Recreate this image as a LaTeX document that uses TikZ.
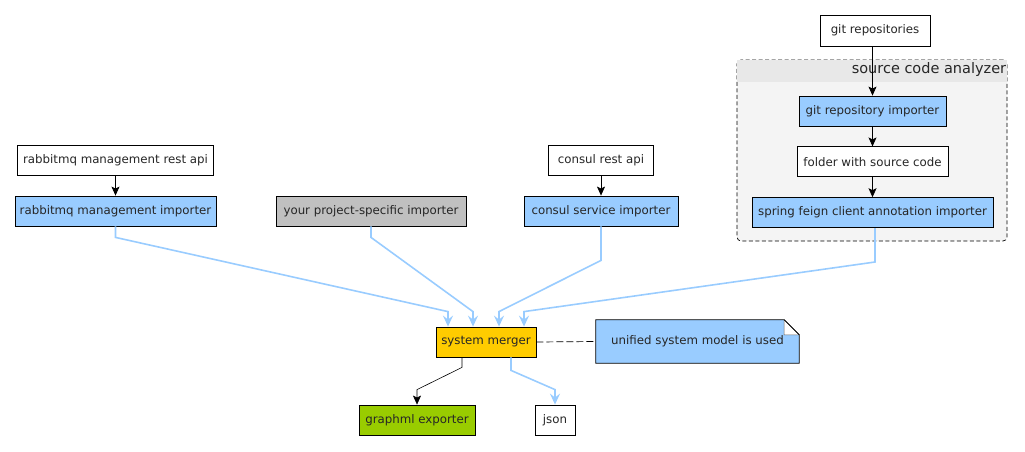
\documentclass[tikz,border=0pt]{standalone}
\usepackage{fontspec}
\setmainfont{DejaVu Sans}
\usepackage{xcolor}
\usepackage{tikz}
\usetikzlibrary{arrows.meta,positioning,calc}

\definecolor{impblue}{HTML}{99CCFF}
\definecolor{custgray}{HTML}{C0C0C0}
\definecolor{mergeorange}{HTML}{FFCC00}
\definecolor{exportgreen}{HTML}{99CC00}
\definecolor{groupfill}{HTML}{F4F4F4}
\definecolor{grouphead}{HTML}{E8E8E8}

\begin{document}
\begin{tikzpicture}[
    x=1pt, y=-1pt,
    font=\fontsize{11.8}{13}\selectfont,
    box/.style={rectangle, draw, line width=0.8pt, fill=white, minimum height=30pt, inner sep=0pt, align=center, text=black!85},
    importer/.style={box, fill=impblue},
    group/.style={rectangle, draw, dash pattern=on 4pt off 2.5pt, rounded corners=4pt, line width=0.7pt, fill=groupfill, inner sep=0pt},
    arrow/.style={-{Stealth[length=9pt,width=8pt,inset=2pt]}, line width=0.7pt},
    feed/.style={-{Stealth[length=11pt,width=10pt,inset=4pt]}, impblue, line width=1.6pt}
]
\useasboundingbox (0,0) rectangle (1025,451);

% source code analyzer group
\node[group, minimum width=270pt, minimum height=181pt] (analyzer) at (872,150.5) {};
\fill[grouphead] ([xshift=0.6pt,yshift=-0.6pt]analyzer.north west) rectangle ([xshift=-0.6pt,yshift=-22pt]analyzer.north east);
\node[anchor=north east, inner sep=1pt, font=\fontsize{14.5}{16}\selectfont, text=black!85] (grouptitle) at ([yshift=-2pt]analyzer.north east) {source code analyzer};

\node[box, minimum width=110pt, minimum height=31pt] (gitrepos) at (875,30.5) {git repositories};
\node[importer, minimum width=147pt] (gitimp) at (872.5,111) {git repository importer};
\node[box, minimum width=151pt, below=20pt of gitimp] (folder) {folder with source code};
\node[importer, minimum width=241pt, below=20pt of folder] (feign) {spring feign client annotation importer};

% other importers
\node[importer, minimum width=201pt] (rmqimp) at (115.5,211) {rabbitmq management importer};
\node[box, minimum width=196pt, above=20pt of rmqimp] (rmqapi) {rabbitmq management rest api};
\node[box, fill=custgray, minimum width=190pt] (custom) at (371,211) {your project-specific importer};
\node[importer, minimum width=154pt] (consulimp) at (601,211) {consul service importer};
\node[box, minimum width=105pt, above=20pt of consulimp] (consulapi) {consul rest api};

% merger and outputs
\node[box, fill=mergeorange, minimum width=100pt] (merger) at (486,342) {system merger};
\node[minimum width=203pt, minimum height=43pt, inner sep=0pt] (note) at (697.5,341.5) {};
\node[box, fill=exportgreen, minimum width=116pt] (graphml) at (417,420) {graphml exporter};
\node[box, minimum width=40pt] (json) at (555,420) {json};

% note outline with folded corner
\filldraw[fill=impblue, line width=0.8pt] (note.north west) -- ([xshift=-15pt]note.north east) -- ([yshift=-15pt]note.north east) -- (note.south east) -- (note.south west) -- cycle;
\filldraw[fill=white, draw=black!60, line width=0.5pt] ([xshift=-15pt]note.north east) -- ([yshift=-15pt]note.north east) -- ([xshift=-15pt,yshift=-15pt]note.north east) -- cycle;
\draw[line width=0.8pt] ([xshift=-15pt]note.north east) -- ([yshift=-15pt]note.north east);
\node[text=black!85] (notetext) at (note) {unified system model is used};

% black arrows
\draw[arrow] (gitrepos.south -| gitimp.north) -- (gitimp.north);
\draw[arrow] (gitimp) -- (folder);
\draw[arrow] (folder) -- (feign);
\draw[arrow] (rmqapi) -- (rmqimp);
\draw[arrow] (consulapi) -- (consulimp);

% importers feed the merger
\draw[feed] (rmqimp.south) -- ++(0,11) -- ([xshift=-38pt,yshift=15pt]merger.north) -- ([xshift=-38pt]merger.north);
\draw[feed] (custom.south) -- ++(0,11) -- ([xshift=-13pt,yshift=15pt]merger.north) -- ([xshift=-13pt]merger.north);
\draw[feed] (consulimp.south) -- ++(0,34) -- ([xshift=13pt,yshift=15pt]merger.north) -- ([xshift=13pt]merger.north);
\draw[feed] ([xshift=2.5pt]feign.south) -- ++(0,34) -- ([xshift=38pt,yshift=15pt]merger.north) -- ([xshift=38pt]merger.north);

% outputs
\draw[arrow, line width=0.6pt] ([xshift=-24pt]merger.south) -- ++(0,10) -- ([yshift=15pt]graphml.north) -- (graphml.north);
\draw[feed] ([xshift=25pt]merger.south) -- ++(0,13) -- ([yshift=15pt]json.north) -- (json.north);

\draw[dash pattern=on 7pt off 3pt, line width=0.7pt] (merger.east) -- (note.west);

\end{tikzpicture}
\end{document}
